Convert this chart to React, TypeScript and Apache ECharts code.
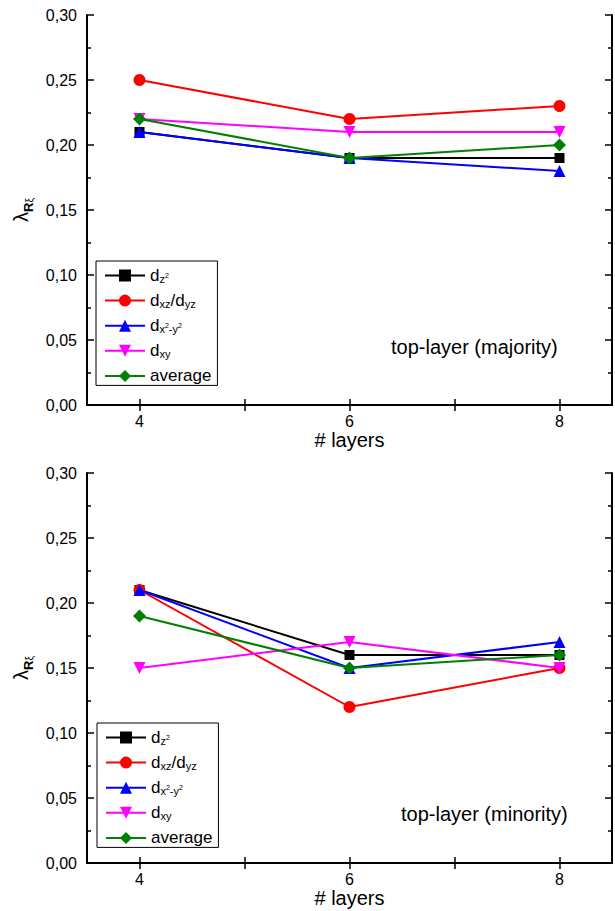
import React, { useEffect, useRef } from 'react';
import * as echarts from 'echarts';

const layers = [4, 6, 8];
const seriesNames = ['dz2', 'dxz/dyz', 'dx2-y2', 'dxy', 'average'];
const seriesColors = ['#000000', '#ff0000', '#0000ff', '#ff00ff', '#008000'];
const seriesSymbols = ['rect', 'circle', 'triangle', 'triangle', 'diamond'];
const seriesSymbolRotate = [0, 0, 0, 180, 0];

// top-layer (majority)
const majDz2 = [0.21, 0.19, 0.19];
const majDxzDyz = [0.25, 0.22, 0.23];
const majDx2y2 = [0.21, 0.19, 0.18];
const majDxy = [0.22, 0.21, 0.21];
const majAverage = [0.22, 0.19, 0.20];

// top-layer (minority)
const minDz2 = [0.21, 0.16, 0.16];
const minDxzDyz = [0.21, 0.12, 0.15];
const minDx2y2 = [0.21, 0.15, 0.17];
const minDxy = [0.15, 0.17, 0.15];
const minAverage = [0.19, 0.15, 0.16];

const xTicks = [4, 5, 6, 7, 8];
const xTickLabels = [4, 6, 8];
const panelTitles = ['top-layer (majority)', 'top-layer (minority)'];
const xAxisTitle = '# layers';

const FONT = "'Liberation Sans', Arial, sans-serif";

const legendRich: Record<string, string> = {
  'dz2': '{m|d}{s|z}{p|2}',
  'dxz/dyz': '{m|d}{s|xz}{m|/d}{s|yz}',
  'dx2-y2': '{m|d}{s|x}{p|2}{s|-y}{p|2}',
  'dxy': '{m|d}{s|xy}',
  'average': '{m|average}',
};

export default function App() {
  const ref = useRef<HTMLDivElement>(null);
  useEffect(() => {
    const chart = echarts.init(ref.current!, null, { renderer: 'svg' });
    const panels = [
      [majDz2, majDxzDyz, majDx2y2, majDxy, majAverage],
      [minDz2, minDxzDyz, minDx2y2, minDxy, minAverage],
    ];
    const grids = [
      { left: 87, top: 15, width: 525, height: 390 },
      { left: 87, top: 473, width: 525, height: 390 },
    ];
    const axisLine = { show: true, lineStyle: { color: '#000', width: 2 } };
    const xAxes: any[] = [];
    const yAxes: any[] = [];
    grids.forEach((_, g) => {
      xAxes.push({
        type: 'value', gridIndex: g, min: 3.5, max: 8.5, position: 'bottom',
        axisLine,
        axisTick: { show: true, inside: true, length: 6, customValues: xTicks, lineStyle: { width: 1.5, color: '#000' } },
        axisLabel: { show: true, customValues: xTickLabels, margin: 8, fontSize: 16, color: '#000', fontFamily: FONT },
        splitLine: { show: false },
        name: xAxisTitle, nameLocation: 'middle', nameGap: 24,
        nameTextStyle: { fontSize: 20, color: '#000', fontFamily: FONT },
      });
      xAxes.push({
        type: 'value', gridIndex: g, min: 3.5, max: 8.5, position: 'top',
        axisLine,
        axisTick: { show: true, inside: true, length: 6, customValues: xTicks, lineStyle: { width: 1.5, color: '#000' } },
        axisLabel: { show: false },
        splitLine: { show: false },
      });
      const yBase = {
        type: 'value', gridIndex: g, min: 0, max: 0.3, interval: 0.05,
        axisLine,
        axisTick: { show: true, inside: true, length: 7, lineStyle: { width: 1.5, color: '#000' } },
        minorTick: { show: true, splitNumber: 2, length: 4, lineStyle: { width: 1.5, color: '#000' } },
        splitLine: { show: false },
        minorSplitLine: { show: false },
      };
      yAxes.push({
        ...yBase, position: 'left',
        axisLabel: {
          show: true, margin: 10, fontSize: 16, color: '#000', fontFamily: FONT,
          formatter: (v: number) => v.toFixed(2).replace('.', ','),
        },
        name: '{l|λ}{r|R}{x|ξ}', nameLocation: 'middle', nameRotate: 90, nameGap: 52,
        nameTextStyle: {
          color: '#000', fontFamily: FONT,
          rich: {
            l: { fontSize: 20, lineHeight: 28, color: '#000', fontFamily: FONT },
            r: { fontSize: 13, fontWeight: 'bold', lineHeight: 12, verticalAlign: 'bottom', color: '#000', fontFamily: FONT },
            x: { fontSize: 10, lineHeight: 6, verticalAlign: 'bottom', color: '#000', fontFamily: FONT },
          },
        },
      });
      yAxes.push({ ...yBase, position: 'right', axisLabel: { show: false } });
    });

    const series: any[] = [];
    panels.forEach((arrs, g) => {
      arrs.forEach((arr, i) => {
        series.push({
          type: 'line',
          name: seriesNames[i],
          xAxisIndex: g * 2,
          yAxisIndex: g * 2,
          data: layers.map((x, k) => [x, arr[k]]),
          symbol: seriesSymbols[i],
          symbolRotate: seriesSymbolRotate[i],
          symbolSize: seriesSymbols[i] === 'rect' ? 10 : seriesSymbols[i] === 'diamond' ? 13 : 12,
          showSymbol: true,
          color: seriesColors[i],
          itemStyle: { color: seriesColors[i] },
          lineStyle: { color: seriesColors[i], width: 2 },
          z: 2 + i,
        });
      });
    });

    const legendBase = {
      orient: 'vertical',
      data: seriesNames,
      itemWidth: 40,
      itemHeight: 15,
      itemGap: 7.6,
      padding: [6, 6, 1, 8],
      borderColor: '#000',
      borderWidth: 1,
      backgroundColor: '#fff',
      selectedMode: false,
      formatter: (name: string) => legendRich[name],
      textStyle: {
        color: '#000', fontFamily: FONT, fontSize: 16,
        rich: {
          m: { fontSize: 17, lineHeight: 18, color: '#000', fontFamily: FONT },
          s: { fontSize: 11, lineHeight: 7, verticalAlign: 'bottom', color: '#000', fontFamily: FONT },
          p: { fontSize: 7, lineHeight: 18, verticalAlign: 'middle', color: '#000', fontFamily: FONT },
        },
      },
    };

    chart.setOption({
      animation: false,
      backgroundColor: '#fff',
      grid: grids,
      xAxis: xAxes,
      yAxis: yAxes,
      series,
      legend: [
        { ...legendBase, left: 96, top: 261 },
        { ...legendBase, left: 97, top: 723 },
      ],
      graphic: [
        { type: 'text', left: 391, top: 337, style: { text: panelTitles[0], fontSize: 20, fill: '#000', fontFamily: FONT } },
        { type: 'text', left: 401, top: 804, style: { text: panelTitles[1], fontSize: 20, fill: '#000', fontFamily: FONT } },
      ],
    });
    return () => chart.dispose();
  }, []);
  return <div ref={ref} style={{ position: 'fixed', left: 0, top: 0, width: 615, height: 911 }} />;
}
